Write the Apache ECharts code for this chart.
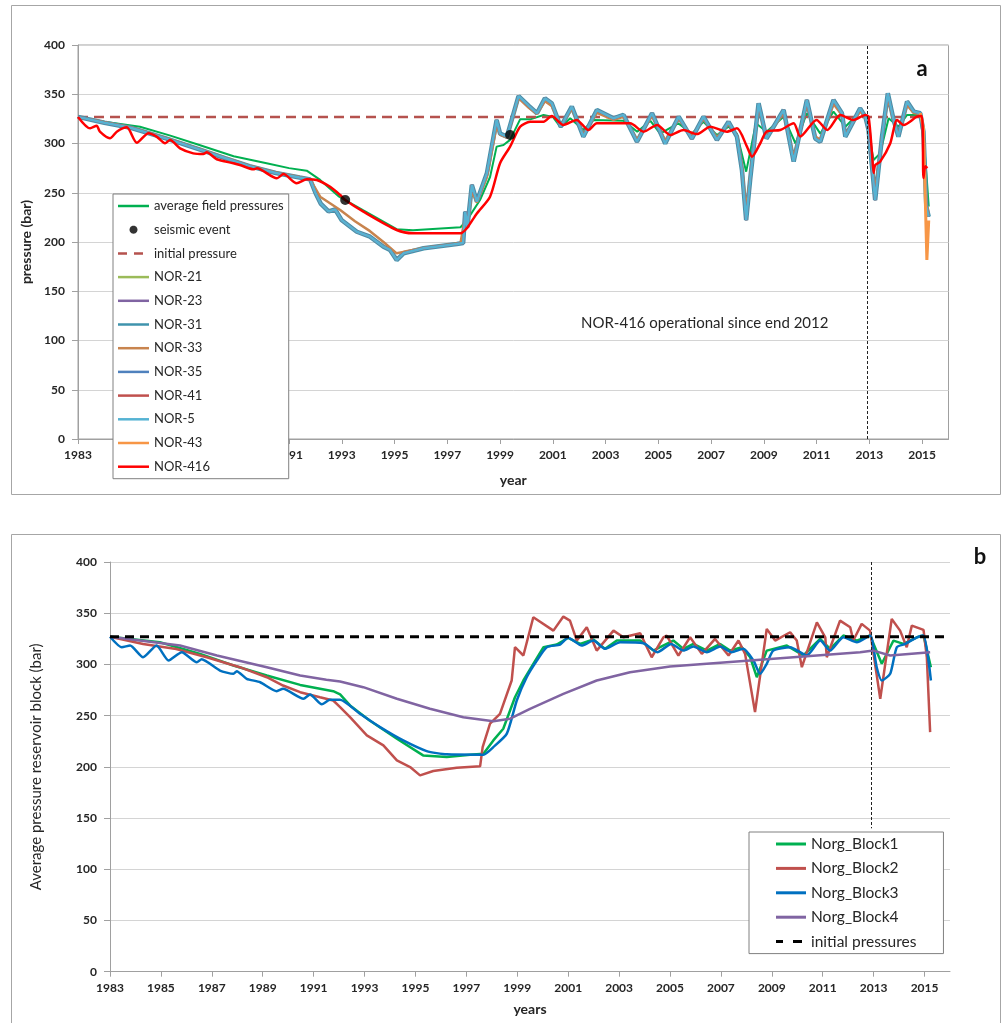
<!DOCTYPE html>
<html lang="en">
<head>
<meta charset="UTF-8">
<title>Norg pressures</title>
<style>
  body { margin: 0; background: #fff; }
  #main { width: 1002px; height: 1023px; }
</style>
</head>
<body>
<div id="main"></div>
<script src="https://cdn.jsdelivr.net/npm/echarts@6/dist/echarts.min.js"></script>
<script>
// tick labels on the year axis
var yearTicks = [1983, 1985, 1987, 1989, 1991, 1993, 1995, 1997, 1999, 2001, 2003, 2005, 2007, 2009, 2011, 2013, 2015];
var initialPressure = 327;
var nor416Start = 2012.92;

// ---- panel a ----
var avgField = [[1983,327],[1984,322],[1985.35,317],[1986.5,308],[1987.6,298.5],[1988.9,287],[1990.15,280],[1991,275],[1991.67,272.4],
  [1992.18,263],[1992.9,246],[1993.13,242.6],[1993.82,232],[1995.08,213],[1995.7,212],[1997.5,215],[1997.74,222],[1998.24,242.6],
  [1998.62,266],[1998.87,296.8],[1999.13,298.5],[1999.38,303.7],[1999.76,324.5],[2000.14,324.5],[2000.65,329],[2001,327],[2001.3,316.4],
  [2001.66,325.6],[2002.16,313.7],[2002.54,323.9],[2003.68,323.2],[2004.2,312],[2004.7,323],[2005.07,310],[2005.75,320.5],[2006.27,310],
  [2006.71,322],[2007.22,308.6],[2007.66,317],[2007.98,310],[2008.33,271.4],[2008.7,320.5],[2009.1,312],[2009.75,327.2],[2010.2,300],
  [2010.63,330.7],[2011.14,310],[2011.64,332.4],[2012.09,317],[2012.65,332.4],[2012.85,329],[2013.16,283.2],[2013.41,290],[2013.73,325.6],
  [2014.1,317],[2014.43,329],[2014.93,329],[2015.1,290],[2015.18,263],[2015.25,236]];

var seismic = [[1993.13,242.6],[1999.38,308.6]];
var initialA = [[1983,initialPressure],[2015,initialPressure]];

var nor5 = [[1983,327],[1984,321],[1985,316],[1986.36,305],[1987.6,294],[1988.6,285],[1989.5,277],[1990.5,270],[1991.4,265.5],
  [1991.8,263.6],[1992,250],[1992.2,239],[1992.5,231],[1992.75,233],[1993,222],[1993.57,210.4],[1994.07,205.4],[1994.58,195.2],
  [1994.83,191.9],[1995.08,181.7],[1995.34,188.5],[1996.1,193.6],[1997.36,198],[1997.6,199],[1997.68,230.8],[1997.76,215],
  [1997.93,257.9],[1998.12,241],[1998.5,269.7],[1998.87,323.9],[1999,310],[1999.26,307],[1999.7,348.2],[2000.1,338],[2000.4,330.7],
  [2000.7,345.8],[2000.96,340.8],[2001.3,317],[2001.72,337.4],[2002.16,307],[2002.67,334],[2003.3,325.6],[2003.68,329],[2004.19,301.8],
  [2004.76,330.7],[2005.26,300],[2005.77,327.2],[2006.27,305],[2006.71,327.2],[2007.22,303.6],[2007.66,322],[2007.98,307],[2008.17,273],
  [2008.33,222.3],[2008.48,263],[2008.8,340.8],[2009.1,305],[2009.75,334],[2010.13,281.6],[2010.63,344.2],[2010.95,305],[2011.14,301.8],
  [2011.64,344.2],[2011.96,330.7],[2012.09,307],[2012.65,335.7],[2012.85,327],[2012.97,313.7],[2013.22,242.6],[2013.48,307],[2013.7,351],
  [2013.92,323.9],[2014.1,307],[2014.43,342.6],[2014.68,332.4],[2014.93,330.7],[2015.05,312],[2015.16,235.8],[2015.25,225.7]];

// the other observation wells sit under NOR-5 almost everywhere
var nor31 = nor5;
var nor21 = nor5;
var nor23 = nor5;
var nor35 = nor5;
var nor41 = nor5;

var nor33 = [[1983,327],[1984,321.5],[1985,316.5],[1986.36,305.5],[1987.6,294.5],[1988.6,285.5],[1989.5,277.5],[1990.5,270.5],[1991.4,266],
  [1991.8,263.6],[1992.18,246],[1992.94,232.5],[1993.5,221],[1994.07,211],[1994.58,200],[1995.08,188.5],[1995.34,190],[1996.1,194],
  [1997.5,199],[1997.68,226],[1997.76,214],[1997.93,252],[1998.12,240],[1998.5,266],[1998.87,318],[1999,309],[1999.26,306],[1999.7,346],
  [2000.1,336],[2000.4,330],[2000.7,343],[2000.96,338],[2001.3,318],[2001.72,335],[2002.16,309],[2002.67,331],[2003.3,324],[2003.68,327],
  [2004.19,304],[2004.76,328],[2005.26,303],[2005.77,325],[2006.27,307],[2006.71,325],[2007.22,306],[2007.66,320],[2007.98,308],
  [2008.17,277],[2008.33,232],[2008.48,266],[2008.8,337],[2009.1,307],[2009.75,331],[2010.13,286],[2010.63,340],[2010.95,307],
  [2011.14,304],[2011.64,340],[2011.96,329],[2012.09,309],[2012.65,333],[2012.85,326],[2012.97,315],[2013.22,250],[2013.48,307],
  [2013.7,346],[2013.92,323],[2014.1,309],[2014.43,339],[2014.68,331],[2014.93,330],[2015.05,313],[2015.16,240],[2015.25,228]];

var nor43 = [[2014.93,331],[2015.05,316],[2015.18,181.7],[2015.25,222]];

var nor416 = [[1983,327],[1983.46,315.4],[1983.71,318],[1983.83,312],[1984.21,305.3],[1984.47,312],[1984.85,316.4],[1985.23,300.8],
  [1985.67,310.4],[1985.98,307],[1986.3,300.2],[1986.49,303.5],[1986.87,295.1],[1987.37,290],[1987.75,289.3],[1987.88,291],[1988.26,284],
  [1988.89,280],[1989.14,278.2],[1989.65,273.8],[1989.78,274.8],[1990.54,264.7],[1990.79,269],[1991.29,259.6],[1991.67,263.7],[1992.05,263],
  [1992.56,256],[1992.94,247.7],[1993.13,242.6],[1993.82,230.8],[1995.08,212.2],[1995.7,208.8],[1997.5,208.8],[1997.74,213.9],[1998.12,229],
  [1998.62,246],[1999,280],[1999.38,296.8],[1999.76,317],[2000.14,322],[2000.65,322],[2000.96,328],[2001.4,318.8],[2001.9,323.9],
  [2002.35,313.7],[2002.67,320.5],[2003.93,320.5],[2004.44,312],[2004.95,318.8],[2005.45,308.6],[2005.95,313.7],[2006.46,309.6],
  [2006.97,317],[2007.6,312],[2007.98,315.4],[2008.36,296.8],[2008.55,286.6],[2008.86,300],[2009.1,312],[2009.62,313.7],[2010.13,320.5],
  [2010.38,307],[2011,323.9],[2011.4,313.7],[2011.9,329],[2012.4,323.9],[2012.85,329],[2012.97,327.2],[2013.1,290],[2013.16,270],
  [2013.22,278],[2013.41,281.6],[2013.79,300],[2014.05,323.9],[2014.3,318.8],[2014.8,327.2],[2014.99,328],[2015.05,265],[2015.12,277],[2015.2,275]];

// ---- panel b ----
var block1 = [[1983,327],[1984.96,321.6],[1986.54,310.3],[1987.85,299],[1989.16,289.2],[1990.47,280],[1991.77,273.9],[1992.04,270.7],
  [1992.43,260],[1993.2,245.3],[1994.27,227.5],[1995.3,211.2],[1996.23,209.6],[1997.15,211.9],[1997.67,212.9],[1998.06,225.8],[1998.45,237.2],
  [1998.91,268],[1999.24,284.3],[1999.63,300.6],[2000.03,316.8],[2000.55,319.4],[2001,326],[2001.47,320],[2001.99,324.3],[2002.45,315.2],
  [2002.91,323.3],[2003.83,323.3],[2004.35,313.5],[2004.61,316.8],[2005.13,323.3],[2005.53,315.2],[2005.92,320],[2006.45,313.5],[2006.97,320],
  [2007.36,313.5],[2007.82,316.8],[2008.15,307],[2008.41,287.5],[2008.8,313.5],[2009.59,318.4],[2010.24,308.7],[2010.9,324.9],[2011.29,315.2],
  [2011.81,328.2],[2012.34,323.3],[2012.86,328.2],[2013.32,300.6],[2013.78,323.3],[2014.17,320],[2014.7,326.5],[2014.96,328.2],[2015.25,297.3]];

var block2 = [[1983,327],[1984.3,320],[1985.6,315],[1986.8,307],[1988.1,297.3],[1989.16,287.5],[1989.8,279.4],[1990.47,272.9],[1991.25,268],
  [1991.77,264.8],[1992.04,258.3],[1992.43,248.5],[1993.09,230.7],[1993.74,221],[1994.27,206.3],[1994.79,199.8],[1995.18,191.7],[1995.7,195.9],
  [1996.62,199.2],[1997.54,200.5],[1997.64,219.3],[1997.93,242.1],[1998.32,251.8],[1998.78,284.3],[1998.91,316.8],[1999.24,308.7],[1999.63,346],
  [2000.42,333],[2000.81,346.7],[2001.07,342.8],[2001.34,323.3],[2001.73,336.3],[2002.12,313.5],[2002.78,333],[2003.17,326.5],[2003.83,330.4],
  [2004.28,307],[2004.74,326.5],[2004.87,328.2],[2005.33,308.7],[2005.79,326.5],[2006.25,310.3],[2006.77,324.9],[2007.3,308.7],[2007.69,323.3],
  [2007.95,310.3],[2008.34,253.4],[2008.8,334.7],[2009.13,323.3],[2009.72,331.4],[2009.98,323.3],[2010.18,297.3],[2010.77,341.1],[2011.1,326.5],
  [2011.16,307],[2011.68,342.8],[2012.08,336.3],[2012.2,323.3],[2012.53,339.6],[2012.86,333],[2013.26,266.5],[2013.71,344.4],[2014.04,333],
  [2014.3,316.8],[2014.5,337.9],[2014.96,333.7],[2015.09,307],[2015.22,233.9]];

var block3 = [[1983,327],[1983.46,316.8],[1983.79,318.4],[1984.3,307],[1984.83,318.4],[1985.3,303.8],[1985.82,311.9],[1986.41,302.1],
  [1986.6,305],[1987.32,294],[1987.85,290.8],[1987.98,293.4],[1988.37,286],[1988.9,282.6],[1989.55,273.9],[1989.8,276.2],[1990.6,266.5],
  [1990.86,270.7],[1991.32,261],[1991.64,265.5],[1992.04,265.5],[1992.82,251.8],[1993.61,238.8],[1994.52,225.8],[1995.44,215.4],[1996.23,212.2],
  [1997.67,211.9],[1998.06,219.3],[1998.59,232.4],[1998.98,264.8],[1999.37,287.5],[1999.77,303.8],[2000.16,316.8],[2000.68,319.4],[2001,326],
  [2001.53,318.4],[2001.99,323.3],[2002.45,315.2],[2003.04,321.6],[2003.96,320.7],[2004.5,311.9],[2005.05,320],[2005.53,313.5],[2005.92,317.4],
  [2006.45,311.9],[2006.97,317.4],[2007.42,311.9],[2007.88,315.2],[2008.28,303.8],[2008.54,290.8],[2008.8,300.6],[2009.06,313.5],[2009.72,316.8],
  [2010.37,308.7],[2010.9,323.3],[2011.29,313.5],[2011.81,326.5],[2012.34,321.6],[2012.86,328.2],[2013.12,297.3],[2013.32,284.3],[2013.65,290.8],
  [2013.91,316.8],[2014.24,320],[2014.7,326.5],[2014.96,328.2],[2015.25,284.3]];

var block4 = [[1983,327],[1985.75,318.4],[1987.2,308.7],[1989.16,297.3],[1990.47,289.2],[1991.5,285],[1992.04,283.3],[1992.95,277.8],
  [1994.27,266.5],[1995.57,256.7],[1996.88,248.5],[1998.06,244.6],[1998.72,247],[1999.5,256.7],[2000.81,271.3],[2002.12,284.3],[2003.43,292.4],
  [2005,298],[2007.23,302.1],[2009.85,307],[2012.47,311.9],[2012.99,313.5],[2013.65,308.7],[2015.22,311.9]];

var initialB = [[1983,initialPressure],[2016,initialPressure]];

var FONT = 'Lato';
var TXT = '#262626';
var AXIS = '#a0a0a0';

// legend icons: a corner-to-corner move keeps the icon box at full size
function boxStart(w, h) { return 'path://M0,0M' + w + ',' + h; }

function dotIcon(w, h, r) {
  var cx = w / 2, cy = h / 2, s = boxStart(w, h);
  for (var i = 0; i <= 24; i++) {
    var a = i / 24 * Math.PI * 2;
    s += (i ? 'L' : 'M') + (cx + r * Math.cos(a)).toFixed(2) + ',' + (cy + r * Math.sin(a)).toFixed(2);
  }
  return s + 'Z';
}

function barIcon(w, h, t, segs) {
  var s = boxStart(w, h), y0 = h / 2 - t / 2, y1 = h / 2 + t / 2;
  segs.forEach(function (g) {
    s += 'M' + g[0] + ',' + y0 + 'L' + g[1] + ',' + y0 + 'L' + g[1] + ',' + y1 + 'L' + g[0] + ',' + y1 + 'Z';
  });
  return s;
}

function line(name, data, color, width, idx, extra) {
  var s = {
    name: name, type: 'line', data: data,
    xAxisIndex: idx, yAxisIndex: idx,
    symbol: 'none', silent: true,
    lineStyle: { color: color, width: width },
    itemStyle: { color: color }
  };
  for (var k in extra) s[k] = extra[k];
  return s;
}

function xAxisOf(idx, name, gap) {
  return {
    gridIndex: idx, type: 'value', min: 1983, max: 2016,
    name: name, nameLocation: 'middle', nameGap: gap,
    nameTextStyle: { fontFamily: FONT, fontWeight: 'bold', fontSize: 14, color: TXT },
    axisLine: { show: true, lineStyle: { color: AXIS } },
    axisTick: { show: true, customValues: yearTicks, length: 5, lineStyle: { color: AXIS } },
    axisLabel: { customValues: yearTicks, margin: 10, fontFamily: FONT, fontWeight: 'bold', fontSize: 12, color: TXT,
      formatter: function (v) { return String(v); } },
    splitLine: { show: false }
  };
}

function yAxisOf(idx, name, gap, nameStyle) {
  return {
    gridIndex: idx, type: 'value', min: 0, max: 400, interval: 50,
    name: name, nameLocation: 'middle', nameGap: gap, nameRotate: 90,
    nameTextStyle: nameStyle,
    axisLine: { show: true, lineStyle: { color: AXIS } },
    axisTick: { show: true, length: 6, lineStyle: { color: AXIS } },
    axisLabel: { margin: 13, fontFamily: FONT, fontWeight: 'bold', fontSize: 12, color: TXT },
    splitLine: { lineStyle: { color: '#d4d4d4' } }
  };
}

var lineA = barIcon(31, 14, 2.5, [[0, 31]]);
var dashA = barIcon(31, 14, 2.5, [[0, 9], [16, 25]]);
var lineB = barIcon(30, 16, 3, [[0, 30]]);
var dashB = barIcon(30, 16, 3, [[0, 7], [17, 26]]);

function legendItems(names, icon) {
  return names.map(function (n) { return { name: n, icon: icon }; });
}

var myChart = echarts.init(document.getElementById('main'));

var option = {
  animation: false,
  backgroundColor: '#fff',
  grid: [
    { left: 78, top: 45, width: 870.5, height: 394, show: true, borderColor: AXIS, borderWidth: 1, backgroundColor: 'transparent' },
    { left: 110, top: 562, width: 840, height: 409.7 }
  ],
  xAxis: [xAxisOf(0, 'year', 34), xAxisOf(1, 'years', 31)],
  yAxis: [
    yAxisOf(0, 'pressure (bar)', 38, { fontFamily: FONT, fontWeight: 'bold', fontSize: 14, color: TXT }),
    yAxisOf(1, 'Average pressure reservoir block (bar)', 66, { fontFamily: FONT, fontSize: 15, color: TXT })
  ],
  legend: [
    {
      orient: 'vertical', left: 113, top: 194, padding: [5, 5, 5, 5],
      itemGap: 9.7, itemWidth: 31, itemHeight: 14,
      backgroundColor: '#fff', borderColor: '#808080', borderWidth: 1,
      itemStyle: { borderWidth: 0 },
      textStyle: { fontFamily: FONT, fontSize: 13, color: TXT },
      selectedMode: false,
      data: [{ name: 'average field pressures', icon: lineA }, { name: 'seismic event', icon: dotIcon(31, 14, 4) },
        { name: 'initial pressure', icon: dashA }]
        .concat(legendItems(['NOR-21', 'NOR-23', 'NOR-31', 'NOR-33', 'NOR-35', 'NOR-41', 'NOR-5', 'NOR-43', 'NOR-416'], lineA))
    },
    {
      orient: 'vertical', left: 749, top: 832, padding: [4, 27, 4, 27],
      itemGap: 8.4, itemWidth: 30, itemHeight: 16,
      backgroundColor: '#fff', borderColor: '#808080', borderWidth: 1,
      itemStyle: { borderWidth: 0 },
      textStyle: { fontFamily: FONT, fontSize: 15.5, color: TXT },
      selectedMode: false,
      data: legendItems(['Norg_Block1', 'Norg_Block2', 'Norg_Block3', 'Norg_Block4'], lineB)
        .concat([{ name: 'initial pressures', icon: dashB }])
    }
  ],
  graphic: [
    { type: 'rect', silent: true, shape: { x: 11.5, y: 5.5, width: 989, height: 489 }, style: { fill: 'none', stroke: '#a6a6a6', lineWidth: 1 } },
    { type: 'rect', silent: true, shape: { x: 11.5, y: 534.5, width: 989, height: 500 }, style: { fill: 'none', stroke: '#a6a6a6', lineWidth: 1 } },
    { type: 'text', silent: true, x: 922, y: 69, style: { text: 'a', fontFamily: FONT, fontWeight: 'bold', fontSize: 22, fill: '#111', align: 'center', verticalAlign: 'middle' } },
    { type: 'text', silent: true, x: 980, y: 557, style: { text: 'b', fontFamily: FONT, fontWeight: 'bold', fontSize: 22, fill: '#111', align: 'center', verticalAlign: 'middle' } },
    { type: 'text', silent: true, x: 581, y: 323, style: { text: 'NOR-416 operational since end 2012', fontFamily: FONT, fontSize: 15, fill: TXT, align: 'left', verticalAlign: 'middle' } }
  ],
  series: [
    line('average field pressures', avgField, '#00b050', 2, 0, {
      markLine: {
        silent: true, symbol: 'none', label: { show: false },
        lineStyle: { color: '#222', width: 1, type: [3, 2] },
        data: [{ xAxis: nor416Start }]
      }
    }),
    {
      name: 'seismic event', type: 'scatter', data: seismic, xAxisIndex: 0, yAxisIndex: 0, z: 5,
      symbol: 'circle', symbolSize: 10, itemStyle: { color: '#000' }, silent: true
    },
    line('initial pressure', initialA, '#b5524e', 2.5, 0, { lineStyle: { color: '#b5524e', width: 2.5, type: [10, 6] } }),
    line('NOR-21', nor21, '#9bbb59', 2.5, 0),
    line('NOR-23', nor23, '#8064a2', 2.5, 0),
    line('NOR-31', nor31, '#3f93ad', 4.5, 0),
    line('NOR-33', nor33, '#c8844e', 2.5, 0),
    line('NOR-35', nor35, '#4f81bd', 2.5, 0),
    line('NOR-41', nor41, '#c0504d', 2.5, 0),
    line('NOR-5', nor5, '#55b3d3', 2.5, 0),
    line('NOR-43', nor43, '#f79646', 3, 0),
    line('NOR-416', nor416, '#ff0000', 2.5, 0, { smooth: 0.25 }),

    line('Norg_Block1', block1, '#00b050', 2.5, 1, {
      markLine: {
        silent: true, symbol: 'none', label: { show: false },
        lineStyle: { color: '#222', width: 1, type: [3, 2] },
        data: [[{ coord: [nor416Start, 400] }, { coord: [nor416Start, 140] }]]
      }
    }),
    line('Norg_Block2', block2, '#c0504d', 2.5, 1),
    line('Norg_Block3', block3, '#0070c0', 2.5, 1, { smooth: 0.2 }),
    line('Norg_Block4', block4, '#8064a2', 2.5, 1),
    line('initial pressures', initialB, '#000', 3, 1, { lineStyle: { color: '#000', width: 3, type: [9, 6] } })
  ]
};

myChart.setOption(option);
</script>
</body>
</html>
